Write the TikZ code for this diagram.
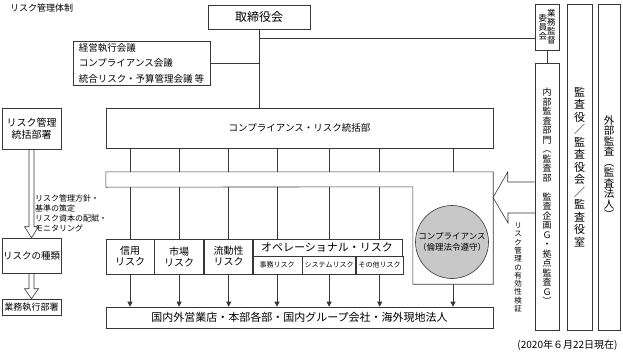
\documentclass[tikz,border=0pt]{standalone}
\usepackage{fontspec}
\setmainfont{Noto Sans CJK JP}
\usepackage{tikz}
\usetikzlibrary{arrows.meta, positioning, calc}
\definecolor{lngray}{RGB}{55,55,55}
\definecolor{circgray}{RGB}{200,200,200}
\newcommand\fs[2]{\fontsize{#1}{#2}\selectfont}
\makeatletter
\newcommand\tate[1]{\parbox{1em}{\centering\@tfor\tate@c:=#1\do{\tate@c\par}}}
\makeatother

\begin{document}
\begin{tikzpicture}[
    x=1pt, y=-1pt,
    every node/.style={align=center, inner sep=0pt},
    box/.style={rectangle, draw=lngray, line width=0.6pt},
    riskbox/.style={box, minimum height=35pt, font=\fs{10}{11}},
    subbox/.style={box, minimum height=18pt, font=\fs{7}{8}},
    line/.style={draw=lngray, line width=0.6pt},
    arrow/.style={line, -{Triangle[length=5pt,width=5pt]}},
    hollow/.style={line, line join=miter}
]
\useasboundingbox (0,0) rectangle (623,353);

% Nodes
\node[anchor=west, font=\fs{9}{10}] (title) at (10,8) {リスク管理体制};
\node[box, minimum width=102pt, minimum height=24pt, font=\fs{12}{14}] (board) at (259,17) {取締役会};
\node[box, minimum width=137pt, minimum height=44pt, font=\fs{9.5}{15.5}, align=left] (meetings) at (141.5,63) {経営執行会議\\コンプライアンス会議\\統合リスク・予算管理会議 等};

% audit side
\node[box, minimum width=24pt, minimum height=46pt, font=\fs{8.5}{9}] (iinkai) at (547,27) {\tate{委員会}\tate{業務監督}};
\node[box, minimum width=24pt, minimum height=267pt, font=\fs{9}{9.5}] (naibu) at (547,196.5) {\tate{内部監査部門︵監査部　監査企画Ｇ・拠点監査Ｇ︶}};
\node[box, minimum width=25pt, minimum height=326pt, font=\fs{11}{12.5}] (kansayaku) at (579.5,167) {\tate{監査役／監査役会／監査役室}};
\node[box, minimum width=22pt, minimum height=326pt, font=\fs{10.5}{10.5}] (gaibu) at (609,167) {\tate{外部監査︵監査法人︶}};

% left column
\node[box, minimum width=59pt, minimum height=41pt, font=\fs{10}{12}] (riskdept) at (31.5,128.5) {リスク管理\\統括部署};
\node[box, minimum width=59pt, minimum height=35pt, font=\fs{9.5}{11}] (riskkind) at (31.5,255.5) {リスクの種類};
\node[box, minimum width=59pt, minimum height=16pt, font=\fs{9}{10}] (bizdept) at (31.5,307) {業務執行部署};
\node[anchor=west, font=\fs{8}{10}, align=left] (policy) at (35,213) {リスク管理方針・\\基準の策定\\リスク資本の配賦・\\モニタリング};

% main block
\node[box, minimum width=387pt, minimum height=40pt, font=\fs{9.5}{11}] (crdept) at (299.5,128) {コンプライアンス・リスク統括部};
\node[minimum width=387pt, minimum height=15pt] (bar) at (299.5,179.5) {};
\node[minimum width=80pt, minimum height=97pt] (cbox) at (453,235.5) {};
\node[circle, draw=lngray, line width=0.6pt, fill=circgray, minimum size=73pt, font=\fs{8.5}{11}] (comp) at (452,242) {コンプライアンス\\（倫理法令遵守）};

\node[riskbox, minimum width=48pt] (credit) at (130,256.5) {信用\\リスク};
\node[riskbox, minimum width=49pt, right=0pt of credit] (market) {市場\\リスク};
\node[riskbox, minimum width=49pt, right=0pt of market] (liquid) {流動性\\リスク};
\node[box, minimum width=150pt, minimum height=17pt, font=\fs{11}{12}] (oprisk) at (327,247.5) {オペレーショナル・リスク};
\node[subbox, minimum width=50pt] (jimu) at (277,265) {事務リスク};
\node[subbox, minimum width=53pt, right=0pt of jimu] (system) {システムリスク};
\node[subbox, minimum width=47pt, right=0pt of system] (other) {その他リスク};

\node[box, minimum width=387pt, minimum height=21pt, font=\fs{11}{12}] (branches) at (299.5,317.5) {国内外営業店・本部各部・国内グループ会社・海外現地法人};

\node[font=\fs{7.5}{8.3}] (verify) at (518,267.5) {\tate{リスク管理の有効性検証}};
\node[font=\fs{10}{11}] (date) at (567.5,345) {(2020年６月22日現在)};

% Connections
\draw[line] (board.south) -- (board.south |- crdept.north);
\coordinate (junc) at ($(board.south)+(0,9)$);
\draw[line] (junc) -- (junc -| iinkai.west);
\draw[line] (meetings.east) -- (meetings.east -| board.south);
\draw[line] (iinkai.south) -- (naibu.north);

\draw[line] (bar.north west) -- (bar.north east) -- (cbox.south east) -- (cbox.south west) -- (cbox.north west) -- (bar.south west) -- cycle;

\draw[line] (crdept.south -| credit) -- (bar.north -| credit);
\draw[line] (crdept.south -| market) -- (bar.north -| market);
\draw[line] (crdept.south -| liquid) -- (bar.north -| liquid);
\draw[line] (crdept.south -| jimu) -- (bar.north -| jimu);
\draw[line] (crdept.south -| system) -- (bar.north -| system);
\draw[line] (crdept.south -| other) -- (bar.north -| other);
\draw[line] (crdept.south -| cbox) -- (bar.north -| cbox);

\draw[line] (bar.south -| credit) -- (credit.north);
\draw[line] (bar.south -| market) -- (market.north);
\draw[line] (bar.south -| liquid) -- (liquid.north);
\draw[line] (bar.south -| jimu) -- (oprisk.north -| jimu);
\draw[line] (bar.south -| system) -- (oprisk.north -| system);
\draw[line] (bar.south -| other) -- (oprisk.north -| other);

\draw[arrow] (credit.south) -- (branches.north -| credit);
\draw[arrow] (market.south) -- (branches.north -| market);
\draw[arrow] (liquid.south) -- (branches.north -| liquid);
\draw[arrow] (jimu.south) -- (branches.north -| jimu);
\draw[arrow] (system.south) -- (branches.north -| system);
\draw[arrow] (other.south) -- (branches.north -| other);
\draw[arrow] (cbox.south) -- (branches.north -| cbox);

% hollow arrows
\draw[hollow] ($(riskdept.south)+(-2.5,0)$) -- ($(riskkind.north)+(-2.5,-11)$) -- ++(-4.5,0) -- (riskkind.north) -- ($(riskkind.north)+(7,-11)$) -- ++(-4.5,0) -- ($(riskdept.south)+(2.5,0)$);
\draw[hollow] ($(riskkind.south)+(-2.5,0)$) -- ($(bizdept.north)+(-2.5,-10)$) -- ++(-4.5,0) -- (bizdept.north) -- ($(bizdept.north)+(7,-10)$) -- ++(-4.5,0) -- ($(riskkind.south)+(2.5,0)$);
\coordinate (tip) at (493,197.5);
\draw[hollow] ($(tip -| naibu.west)+(0,-15.5)$) -- ++(-27,0) -- ++(0,-10) -- (tip) -- ++(15,25.5) -- ++(0,-10) -- ++(27,0);

\end{tikzpicture}
\end{document}
